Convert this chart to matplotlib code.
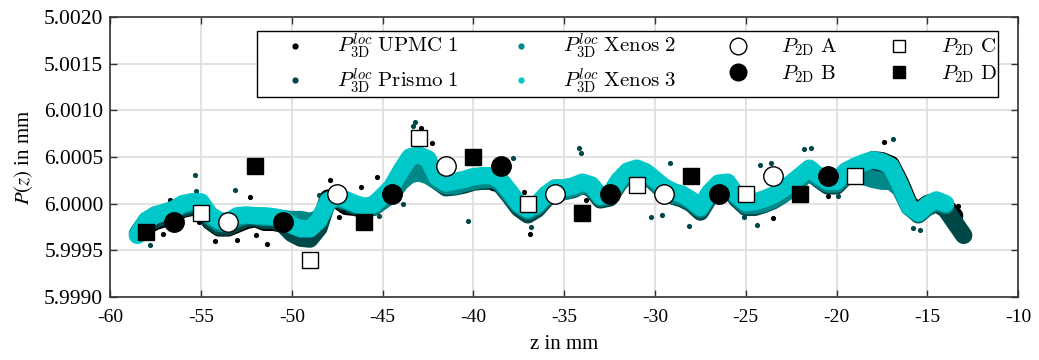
import numpy as np
import matplotlib
matplotlib.use('Agg')
import matplotlib.pyplot as plt
from matplotlib.lines import Line2D

plt.rcParams['font.family'] = ['Liberation Serif', 'DejaVu Serif']
plt.rcParams['mathtext.fontset'] = 'cm'

# sample positions along z (mm) at which the measured bands were read
z = np.arange(-58.5, -12.9, 0.5)
nan = np.nan

# band centre, deviation from 6.0000 mm in units of 1e-4 mm
upmc1 = [nan, -2.4, -1.9, -1.6, -1.2, -0.6, -0.4, -0.5, -1.9, -2.6,
         -2.6, -2.2, -1.8, -1.6, -2.0, -2.0, -2.2, -3.0, -3.3, -3.3,
         -2.4, 0.6, 0.4, -0.3, -0.4, -0.7, -0.3, 0.5, 1.4, 3.0,
         4.6, 4.9, 4.4, 2.6, 1.8, 2.0, 2.2, 2.5, 2.6, 2.6,
         2.1, 0.9, -0.4, -1.1, -0.5, 0.6, 1.3, 1.4, 1.6, 2.0,
         1.7, 0.5, 0.7, 2.2, 3.3, 3.6, 3.2, 2.3, 1.5, 1.0,
         0.7, 0.1, -0.7, 0.9, 2.0, 2.0, 0.6, -0.2, -0.1, 0.2,
         0.6, 1.2, 1.9, 2.7, 3.5, 2.7, 2.1, 2.1, 3.2, 3.8,
         4.3, 4.7, 4.6, 4.2, 2.3, 0.0, -0.8, 0.0, 0.3, -0.3,
         -1.3, nan]
prismo1 = [nan, -2.2, -1.7, -1.4, -1.0, -0.5, -0.3, -0.4, -1.8, -2.5,
           -2.5, -2.0, -1.6, -1.5, -1.8, -1.8, -2.2, -3.2, -3.7, -3.8,
           -2.6, 0.4, 0.5, 0.0, -0.3, -0.6, -0.4, 0.3, 1.0, 2.4,
           3.6, 3.8, 3.5, 2.4, 1.7, 1.8, 2.0, 2.3, 2.4, 2.4,
           2.0, 0.8, -0.5, -1.2, -0.6, 0.5, 1.2, 1.3, 1.5, 2.0,
           1.6, 0.4, 0.6, 2.1, 3.2, 3.5, 3.1, 2.2, 1.3, 0.8,
           0.5, 0.0, -0.9, 0.7, 1.8, 1.9, 0.5, -0.4, -0.4, -0.1,
           0.3, 0.9, 1.7, 2.6, 3.4, 2.6, 1.9, 1.9, 2.9, 3.2,
           3.3, 3.3, 3.2, 3.0, 1.8, -0.3, -1.2, -0.4, 0.0, -0.6,
           -2.0, -3.4]
xenos2 = [-3.2, -1.8, -1.2, -1.0, -0.7, -0.2, 0.0, 0.0, -1.4, -2.1,
          -2.2, -1.6, -1.3, -1.3, -1.5, -1.5, -1.6, -1.7, -1.7, -1.9,
          -1.6, 0.1, 0.6, 0.2, -0.1, -0.4, -0.3, 0.3, 1.0, 2.3,
          3.1, 3.3, 3.0, 2.4, 1.9, 1.9, 2.2, 2.4, 2.6, 2.6,
          2.2, 1.0, -0.2, -0.8, -0.3, 0.7, 1.1, 1.3, 1.6, 2.0,
          1.8, 0.6, 0.8, 2.2, 3.1, 3.3, 3.0, 2.3, 1.2, 0.9,
          0.7, 0.2, -0.6, 0.9, 1.9, 2.0, 0.7, -0.2, -0.2, 0.0,
          0.4, 0.9, 1.6, 2.6, 3.4, 2.7, 2.1, 2.1, 3.0, 3.1,
          2.9, 2.6, 2.4, 2.4, 1.6, -0.4, -1.1, -0.3, 0.2, -0.2,
          nan, nan]
xenos3 = [-3.4, -1.8, -1.2, -0.9, -0.6, 0.0, 0.2, 0.2, -1.2, -1.8,
          -1.9, -1.3, -1.2, -1.3, -1.3, -1.4, -1.6, -2.3, -2.7, -2.7,
          -1.8, 0.3, 0.8, 0.4, 0.0, -0.3, -0.1, 0.8, 1.8, 3.5,
          5.0, 5.2, 4.8, 2.8, 2.2, 2.4, 2.6, 2.9, 3.0, 3.0,
          2.5, 1.3, 0.0, -0.6, -0.1, 1.0, 1.7, 1.7, 1.9, 2.3,
          2.0, 0.8, 1.0, 2.5, 3.5, 3.8, 3.4, 2.6, 1.8, 1.3,
          1.0, 0.4, -0.4, 1.2, 2.2, 2.3, 0.9, 0.1, 0.2, 0.5,
          0.9, 1.5, 2.2, 3.0, 3.8, 3.0, 2.4, 2.4, 3.5, 4.0,
          4.4, 4.7, 4.5, 4.0, 2.0, -0.3, -1.0, -0.1, 0.4, 0.0,
          nan, nan]

# isolated points outside the bands (z in mm, deviation in 1e-4 mm)
prismo1_out_z = [-55.3, -55.25, -53.1, -57.8, -49.3, -48.5, -43.2, -43.3, -43.9,
                 -40.3, -36.8, -34.2, -34.1, -37.8, -45.2, -30.2, -29.6, -28.1,
                 -24.2, -23.6, -21.8, -21.4, -29.2, -24.4, -25.1, -16.9, -15.8,
                 -15.4, -19.9]
prismo1_out_v = [3.1, 1.4, 1.5, -4.4, -6.7, 0.9, 8.7, 8.3, 0.0,
                 -1.9, -2.5, 6.0, 5.4, 4.9, -1.3, -1.4, -1.25, -2.35,
                 4.1, 4.4, 5.9, 6.0, 4.3, -2.3, -1.4, 6.9, -2.6,
                 -2.8, 0.85]
upmc1_out_z = [-52.3, -54.2, -53.0, -51.35, -51.95, -57.1, -56.7, -55.1, -47.9,
               -47.4, -47.1, -42.9, -42.3, -45.3, -46.2, -36.9, -37.2, -39.0,
               -23.5, -33.8, -17.4, -20.5, -13.3]
upmc1_out_v = [0.7, -4.0, -3.9, -4.3, -3.4, -3.3, 0.35, -2.0, 2.5,
               -1.4, -0.6, 8.1, 6.5, 2.9, 1.8, -3.2, 1.3, 1.7,
               -1.5, 0.35, 6.6, 0.8, -0.3]

# 2D profile measurements P_2D (z in mm, P in mm)
a_z = [-53.5, -47.5, -41.5, -35.5, -29.5, -23.5]
a_p = [5.9998, 6.0001, 6.0004, 6.0001, 6.0001, 6.0003]
b_z = [-56.5, -50.5, -44.5, -38.5, -32.5, -26.5, -20.5]
b_p = [5.9998, 5.9998, 6.0001, 6.0004, 6.0001, 6.0001, 6.0003]
c_z = [-55.0, -49.0, -43.0, -37.0, -31.0, -25.0, -19.0]
c_p = [5.9999, 5.9994, 6.0007, 6.0000, 6.0002, 6.0001, 6.0003]
d_z = [-58.0, -52.0, -46.0, -40.0, -34.0, -28.0, -22.0]
d_p = [5.9997, 6.0004, 5.9998, 6.0005, 5.9999, 6.0003, 6.0001]

y_ticks = [5.9990, 5.9995, 6.0000, 6.0005, 6.0010, 6.0015, 6.0020]
y_labels = ['5.9990', '5.9995', '6.0000', '6.0005', '6.0010', '5.0015', '5.0020']


def to_mm(dev):
    return 6.0 + np.array(dev, dtype=float) * 1e-4


c_black = '#000000'
c_dark = '#004848'
c_teal = '#008888'
c_cyan = '#00c8c8'

fig = plt.figure(figsize=(10.39, 3.6), dpi=100)
ax = fig.add_axes([0.106, 0.175, 0.874, 0.778])

band = dict(solid_capstyle='round', solid_joinstyle='round')
lw_band = 12.5
ax.plot(z, to_mm(upmc1), color=c_black, lw=lw_band, zorder=2, **band)
ax.plot(z, to_mm(prismo1), color=c_dark, lw=lw_band, zorder=3, **band)
ax.scatter(upmc1_out_z, to_mm(upmc1_out_v), s=14, color=c_black, lw=0, zorder=3)
ax.scatter(prismo1_out_z, to_mm(prismo1_out_v), s=14, color=c_dark, lw=0, zorder=3)
ax.plot(z, to_mm(xenos2), color=c_teal, lw=lw_band, zorder=4, **band)
ax.plot(z, to_mm(xenos3), color=c_cyan, lw=lw_band, zorder=5, **band)

ax.plot(a_z, a_p, 'o', ms=14, mfc='white', mec='black', mew=1.0, zorder=6)
ax.plot(b_z, b_p, 'o', ms=14, mfc='black', mec='black', zorder=6)
ax.plot(c_z, c_p, 's', ms=11, mfc='white', mec='black', mew=1.0, zorder=6)
ax.plot(d_z, d_p, 's', ms=11, mfc='black', mec='black', zorder=6)

ax.set_xlim(-60, -10)
ax.set_ylim(5.9990, 6.0020)
ax.set_xticks(np.arange(-60, -9, 5))
ax.set_xticklabels([str(t) for t in range(-60, -9, 5)])
ax.set_yticks(y_ticks)
ax.set_yticklabels(y_labels)
ax.tick_params(direction='in', length=5, width=1, top=True, right=True,
               color='#333333')
ax.tick_params(axis='y', labelsize=15.5, pad=5)
ax.tick_params(axis='x', labelsize=14, pad=9)
ax.grid(True, color='#dddddd', lw=1.2)
ax.set_axisbelow(True)
for s in ax.spines.values():
    s.set_color('#333333')
    s.set_linewidth(1.2)

ax.set_xlabel('z in mm', fontsize=15, labelpad=6)
ax.set_ylabel(r'$P(z)$ in mm', fontsize=15, labelpad=6, math_fontfamily='stix')

dot = dict(marker='o', ls='none', ms=4.5, mew=0)
handles = [
    Line2D([], [], color=c_black, **dot),
    Line2D([], [], color=c_dark, **dot),
    Line2D([], [], color=c_teal, **dot),
    Line2D([], [], color=c_cyan, **dot),
    Line2D([], [], marker='o', ls='none', ms=12, mfc='white', mec='black'),
    Line2D([], [], marker='o', ls='none', ms=12, mfc='black', mec='black'),
    Line2D([], [], marker='s', ls='none', ms=9, mfc='white', mec='black'),
    Line2D([], [], marker='s', ls='none', ms=9, mfc='black', mec='black'),
]
labels = [
    r'$P^{loc}_{\mathrm{3D}}\ \mathrm{UPMC\ 1}$',
    r'$P^{loc}_{\mathrm{3D}}\ \mathrm{Prismo\ 1}$',
    r'$P^{loc}_{\mathrm{3D}}\ \mathrm{Xenos\ 2}$',
    r'$P^{loc}_{\mathrm{3D}}\ \mathrm{Xenos\ 3}$',
    r'$P_{\mathrm{2D}}\ \mathrm{A}$',
    r'$P_{\mathrm{2D}}\ \mathrm{B}$',
    r'$P_{\mathrm{2D}}\ \mathrm{C}$',
    r'$P_{\mathrm{2D}}\ \mathrm{D}$',
]
leg = ax.legend(handles, labels, ncol=4, loc='upper right',
                bbox_to_anchor=(0.978, 0.95), borderaxespad=0, fontsize=15,
                frameon=True, fancybox=False, framealpha=1, edgecolor='black',
                handletextpad=0.3, columnspacing=1.2, labelspacing=0.24,
                borderpad=0.05, handlelength=3.5)
leg.get_frame().set_linewidth(1.0)
leg.set_zorder(10)

fig.savefig('out.png', dpi=100)
